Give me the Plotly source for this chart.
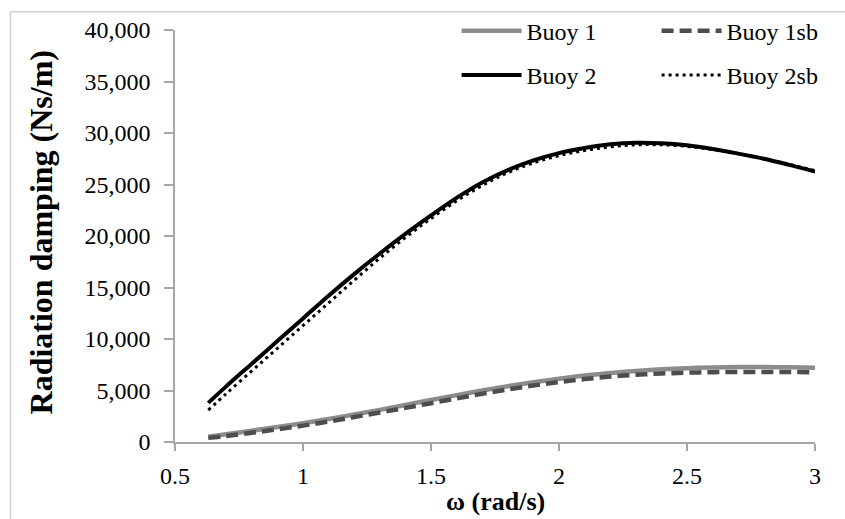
import plotly.graph_objects as go

omega = [0.63, 0.7, 0.8, 0.9, 1.0, 1.1, 1.2, 1.3, 1.4, 1.5, 1.6, 1.7, 1.8, 1.9,
         2.0, 2.1, 2.2, 2.3, 2.4, 2.5, 2.6, 2.7, 2.8, 2.9, 3.0]

buoy1 = [520, 750, 1100, 1450, 1820, 2230, 2670, 3120, 3600, 4080, 4550, 5000,
         5420, 5800, 6150, 6450, 6700, 6900, 7060, 7170, 7240, 7270, 7270, 7250, 7200]
buoy1sb = [400, 580, 900, 1230, 1590, 1990, 2420, 2860, 3310, 3770, 4230, 4680,
           5100, 5480, 5820, 6110, 6350, 6520, 6650, 6730, 6780, 6800, 6800, 6790, 6770]
buoy2 = [3800, 5400, 7600, 9800, 12000, 14200, 16300, 18300, 20200, 22000, 23700,
         25200, 26400, 27350, 28050, 28550, 28900, 29050, 29000, 28800, 28450,
         28000, 27500, 26900, 26250]
buoy2sb = [3100, 4700, 6900, 9100, 11300, 13500, 15700, 17850, 19850, 21700, 23400,
           24900, 26150, 27100, 27800, 28300, 28650, 28850, 28850, 28700, 28400,
           28000, 27500, 26950, 26350]

x_ticks = [0.5, 1, 1.5, 2, 2.5, 3]
x_tick_text = ["0.5", "1", "1.5", "2", "2.5", "3"]
y_ticks = [0, 5000, 10000, 15000, 20000, 25000, 30000, 35000, 40000]
y_tick_text = ["0", "5,000", "10,000", "15,000", "20,000", "25,000", "30,000", "35,000", "40,000"]

FONT = "Liberation Serif"

fig = go.Figure()
fig.add_trace(go.Scatter(x=omega, y=buoy1, mode="lines", name="Buoy 1",
                         line=dict(color="#8c8c8c", width=4.5, shape="spline"),
                         legend="legend", legendgroup="a"))
fig.add_trace(go.Scatter(x=omega, y=buoy2, mode="lines", name="Buoy 2",
                         line=dict(color="#000000", width=4, shape="spline"),
                         legend="legend", legendgroup="b"))
fig.add_trace(go.Scatter(x=omega, y=buoy1sb, mode="lines", name="Buoy 1sb",
                         line=dict(color="#4d4d4d", width=4.5, dash="12px,6px", shape="spline"),
                         legend="legend2", legendgroup="c"))
fig.add_trace(go.Scatter(x=omega, y=buoy2sb, mode="lines", name="Buoy 2sb",
                         line=dict(color="#000000", width=3, dash="3px,4px", shape="spline"),
                         legend="legend2", legendgroup="d"))

axis_color = "#a6a6a6"
fig.update_layout(
    width=845, height=519,
    margin=dict(l=175, r=30, t=30, b=77, autoexpand=False),
    paper_bgcolor="white", plot_bgcolor="white",
    font=dict(family=FONT, size=24, color="#000000"),
    xaxis=dict(range=[0.5, 3], tickvals=x_ticks, ticktext=x_tick_text,
               showgrid=False, zeroline=False, showline=True, linecolor=axis_color,
               linewidth=1.5, ticks="outside", ticklen=7, tickcolor=axis_color,
               tickwidth=1.5, tickfont=dict(family=FONT, size=24), ticklabelstandoff=4),
    yaxis=dict(range=[0, 40000], tickvals=y_ticks, ticktext=y_tick_text,
               showgrid=False, zeroline=False, showline=True, linecolor=axis_color,
               linewidth=1.5, ticks="outside", ticklen=9, tickcolor=axis_color,
               tickwidth=1.5, tickfont=dict(family=FONT, size=24), ticklabelstandoff=9),
    legend=dict(x=0.44, y=1.052, xanchor="left", yanchor="top", orientation="v",
                bgcolor="rgba(0,0,0,0)", font=dict(family=FONT, size=24),
                tracegroupgap=10, itemwidth=60),
    legend2=dict(x=0.7525, y=1.052, xanchor="left", yanchor="top", orientation="v",
                 bgcolor="rgba(0,0,0,0)", font=dict(family=FONT, size=24),
                 tracegroupgap=10, itemwidth=60),
    showlegend=True,
    shapes=[
        dict(type="line", xref="paper", yref="paper", x0=-0.257, x1=1.1, y0=1.044, y1=1.044,
             line=dict(color="#d0d0d0", width=1.5)),
        dict(type="line", xref="paper", yref="paper", x0=-0.257, x1=-0.257, y0=1.044, y1=-0.2,
             line=dict(color="#d0d0d0", width=1.5)),
    ],
    annotations=[
        dict(text="<b>ω (rad/s)</b>", xref="paper", yref="paper", x=0.5, y=-0.145,
             xanchor="center", yanchor="middle", showarrow=False,
             font=dict(family=FONT, size=26)),
        dict(text="<b>Radiation damping (Ns/m)</b>", xref="paper", yref="paper",
             x=-0.21, y=0.51, xanchor="center", yanchor="middle", textangle=-90,
             showarrow=False, font=dict(family=FONT, size=32)),
    ],
)

fig.write_html("out.html")
